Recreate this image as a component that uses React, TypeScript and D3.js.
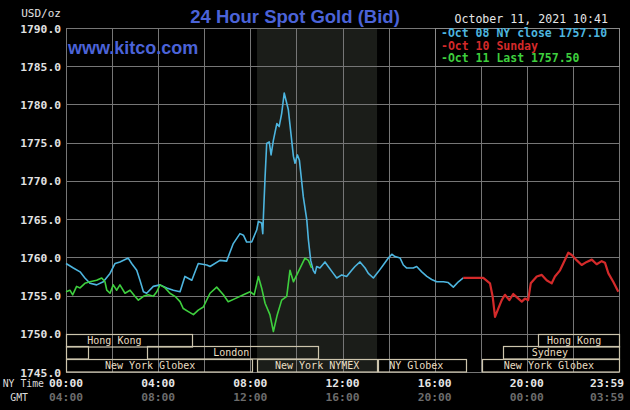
import React, { Component } from 'react';
import * as d3 from 'd3';

// [hour NY time, price]
const oct08Close: [number, number][] = [
  [0, 1759.2], [0.32, 1758.6], [0.61, 1758.1], [0.82, 1757.3], [1.04, 1756.6], [1.33, 1756.4],
  [1.62, 1756.8], [1.91, 1757.9], [2.13, 1759.2], [2.34, 1759.4], [2.7, 1759.9], [2.85, 1759.2],
  [3.07, 1758.3], [3.21, 1757.0], [3.36, 1755.5], [3.5, 1755.3], [3.79, 1756.2], [4.08, 1756.4],
  [4.37, 1756.0], [4.66, 1755.7], [4.95, 1755.5], [5.16, 1757.5], [5.46, 1757.0], [5.74, 1759.2],
  [6.11, 1759.0], [6.25, 1758.8], [6.68, 1759.6], [6.97, 1759.5], [7.26, 1761.8], [7.55, 1763.1],
  [7.7, 1762.9], [7.84, 1762.0], [8.06, 1762.0], [8.28, 1763.6], [8.35, 1764.7], [8.49, 1764.5],
  [8.54, 1763.1], [8.57, 1765.5], [8.64, 1770.5], [8.71, 1774.9], [8.82, 1775.1], [8.9, 1773.4],
  [9.0, 1775.3], [9.15, 1777.5], [9.25, 1777.1], [9.36, 1778.8], [9.47, 1781.5], [9.65, 1779.3],
  [9.87, 1773.2], [9.94, 1772.3], [10.04, 1773.4], [10.13, 1772.7], [10.3, 1767.9], [10.45, 1764.9],
  [10.52, 1762.3], [10.62, 1759.6], [10.73, 1758.3], [10.81, 1757.9], [10.88, 1758.8], [11.02, 1758.6],
  [11.24, 1759.4], [11.38, 1758.8], [11.6, 1757.9], [11.75, 1757.3], [11.97, 1757.7], [12.18, 1757.5],
  [12.4, 1758.3], [12.54, 1758.8], [12.76, 1759.4], [12.98, 1758.6], [13.12, 1757.9], [13.34, 1757.3],
  [13.55, 1758.1], [13.77, 1759.0], [13.99, 1759.9], [14.14, 1760.4], [14.28, 1760.1], [14.5, 1759.9],
  [14.64, 1759.0], [14.79, 1758.6], [15.07, 1758.6], [15.22, 1758.8], [15.44, 1758.1], [15.66, 1757.5],
  [15.87, 1757.1], [16.09, 1756.8], [16.38, 1756.8], [16.59, 1756.7], [16.81, 1756.1], [17.03, 1756.8],
  [17.24, 1757.3]
];

const oct10Sunday: [number, number][] = [
  [17.24, 1757.3], [18.11, 1757.3], [18.4, 1756.6], [18.52, 1754.8], [18.62, 1752.2], [18.76, 1753.3],
  [18.91, 1754.4], [19.05, 1755.1], [19.24, 1754.4], [19.41, 1755.2], [19.56, 1754.8], [19.78, 1754.2],
  [19.92, 1754.6], [20.06, 1754.4], [20.17, 1756.6], [20.43, 1757.5], [20.65, 1757.7], [20.86, 1757.0],
  [21.08, 1756.6], [21.22, 1757.5], [21.44, 1758.3], [21.58, 1759.2], [21.8, 1760.6], [21.95, 1760.3],
  [22.17, 1759.6], [22.38, 1759.0], [22.6, 1759.4], [22.82, 1759.7], [23.03, 1759.1], [23.25, 1759.5],
  [23.39, 1759.3], [23.54, 1757.9], [23.75, 1756.8], [23.97, 1755.5]
];

const oct11Last: [number, number][] = [
  [0, 1755.5], [0.17, 1755.7], [0.29, 1755.1], [0.46, 1756.2], [0.61, 1756.0], [0.82, 1756.6],
  [1.04, 1756.8], [1.33, 1757.0], [1.55, 1757.3], [1.69, 1756.8], [1.77, 1755.7], [1.91, 1755.3],
  [2.05, 1756.4], [2.2, 1755.7], [2.34, 1756.4], [2.56, 1755.3], [2.78, 1755.7], [2.99, 1754.9],
  [3.14, 1754.4], [3.36, 1754.9], [3.57, 1755.1], [3.79, 1754.9], [3.94, 1755.5], [4.08, 1756.4],
  [4.3, 1756.0], [4.51, 1755.3], [4.73, 1754.9], [4.95, 1754.2], [5.09, 1753.3], [5.31, 1752.9],
  [5.53, 1752.5], [5.74, 1753.1], [5.96, 1753.5], [6.25, 1755.3], [6.54, 1756.1], [6.83, 1755.1],
  [7.04, 1754.2], [7.34, 1754.6], [7.7, 1755.1], [7.99, 1755.5], [8.17, 1755.1], [8.35, 1757.5],
  [8.49, 1756.0], [8.64, 1754.0], [8.85, 1752.5], [9.0, 1750.3], [9.17, 1752.5], [9.36, 1754.4],
  [9.58, 1754.9], [9.72, 1758.3], [9.87, 1756.8], [10.08, 1758.1], [10.37, 1759.9], [10.52, 1759.6],
  [10.66, 1758.6]
];

const priceTicks = [1745, 1750, 1755, 1760, 1765, 1770, 1775, 1780, 1785, 1790];
const labelHours = [0, 4, 8, 12, 16, 20, 24];
const nyTimeLabels = ['00:00', '04:00', '08:00', '12:00', '16:00', '20:00', '23:59'];
const gmtLabels = ['04:00', '08:00', '12:00', '16:00', '20:00', '00:00', '03:59'];
const nymexHours = [8.29, 13.5];

// [start, end, name, label hour]
const sessionRow1: [number, number, string, number][] = [
  [0, 5.47, 'Hong Kong', 2.1], [20.5, 24, 'Hong Kong', 22.05]
];
const sessionRow2: [number, number, string, number][] = [
  [0, 0.95, '', 0], [3.5, 10.94, 'London', 7.17], [18.97, 24, 'Sydney', 21.0]
];
const sessionRow3: [number, number, string, number][] = [
  [0, 8.07, 'New York Globex', 3.65], [8.29, 13.5, 'New York NYMEX', 10.9],
  [13.54, 17.36, 'NY Globex', 15.2], [18.05, 24, 'New York Globex', 20.96]
];

const legendNames = ['Oct 08 NY close 1757.10', 'Oct 10 Sunday', 'Oct 11 Last 1757.50'];
const legendColors = ['#4db5df', '#d42a2a', '#3ecf3e'];

const MONO = '"DejaVu Sans Mono", monospace';
const SANS = '"Liberation Sans", Arial, sans-serif';

class GoldChart extends Component {
  box: SVGSVGElement | null = null;

  componentDidMount() {
    this.draw();
  }

  draw() {
    let me = this;
    let width = 630;
    let height = 410;
    let svg = d3.select(me.box);
    svg.selectAll('*').remove();

    let x = d3.scaleLinear().domain([0, 24]).range([66, 619]);
    let y = d3.scaleLinear().domain([1745, 1790]).range([372, 28]);

    svg.append('rect').attr('width', width).attr('height', height).attr('fill', '#000');

    // NYMEX shaded hours
    svg.append('rect')
      .attr('x', x(nymexHours[0]))
      .attr('y', y(1790))
      .attr('width', x(nymexHours[1]) - x(nymexHours[0]))
      .attr('height', y(1745) - y(1790))
      .attr('fill', '#1b1d19');

    // grid
    let grid = svg.append('g').attr('stroke', '#767676').attr('stroke-width', 1);
    grid.selectAll('.v')
      .data(d3.range(0, 25, 2))
      .enter()
      .append('line')
      .attr('x1', d => Math.round(x(d)) + 0.5)
      .attr('x2', d => Math.round(x(d)) + 0.5)
      .attr('y1', y(1790))
      .attr('y2', y(1745));
    grid.selectAll('.h')
      .data(priceTicks)
      .enter()
      .append('line')
      .attr('x1', x(0))
      .attr('x2', x(24))
      .attr('y1', d => Math.round(y(d)) + 0.5)
      .attr('y2', d => Math.round(y(d)) + 0.5);

    // market session boxes
    let rowTop = [y(1750), y(1750) + 12.5, y(1750) + 25];
    [sessionRow1, sessionRow2, sessionRow3].forEach((row, i) => {
      let g = svg.append('g');
      g.selectAll('rect')
        .data(row)
        .enter()
        .append('rect')
        .attr('x', d => Math.round(x(d[0])) + 0.5)
        .attr('y', Math.round(rowTop[i]) + 0.5)
        .attr('width', d => Math.round(x(d[1]) - x(d[0])))
        .attr('height', 12.5)
        .attr('fill', 'none')
        .attr('stroke', '#cdc5ad')
        .attr('stroke-width', 1.2);
      g.selectAll('text')
        .data(row)
        .enter()
        .append('text')
        .text(d => d[2])
        .attr('x', d => x(d[3]))
        .attr('y', rowTop[i] + 10)
        .attr('text-anchor', 'middle')
        .attr('fill', '#eadfc2')
        .style('font-family', MONO)
        .style('font-size', '10px');
    });

    // price lines
    let line = d3.line<[number, number]>().x(d => x(d[0])).y(d => y(d[1]));
    [oct08Close, oct10Sunday, oct11Last].forEach((s, i) => {
      svg.append('path')
        .attr('d', line(s))
        .attr('fill', 'none')
        .attr('stroke', legendColors[i])
        .attr('stroke-width', i === 1 ? 2.2 : 1.6)
        .attr('stroke-linejoin', 'round');
    });

    // legend
    svg.append('rect')
      .attr('x', 435.5).attr('y', y(1790) + 0.5)
      .attr('width', x(24) - 435).attr('height', 38)
      .attr('fill', '#000')
      .attr('stroke', '#8a8a8a');
    legendNames.forEach((name, i) => {
      svg.append('text')
        .text('-' + name)
        .attr('x', 441)
        .attr('y', 37 + i * 12.6)
        .attr('fill', legendColors[i])
        .style('font-family', MONO)
        .style('font-weight', 'bold')
        .style('font-size', '11.5px');
    });

    // y axis labels
    svg.selectAll('.ylab')
      .data(priceTicks)
      .enter()
      .append('text')
      .text(d => d.toFixed(1))
      .attr('x', 61)
      .attr('y', d => y(d) + 4.5)
      .attr('text-anchor', 'end')
      .attr('fill', '#e2e2e2')
      .style('font-family', MONO)
      .style('font-weight', 'bold')
      .style('font-size', '11.3px');

    // x axis labels
    labelHours.forEach((h, i) => {
      let last = i === labelHours.length - 1;
      let px = last ? x(h) + 5 : x(h);
      let anchor = last ? 'end' : 'middle';
      svg.append('text')
        .text(nyTimeLabels[i])
        .attr('x', px).attr('y', 387)
        .attr('text-anchor', anchor)
        .attr('fill', '#e6e6e6')
        .style('font-family', MONO)
        .style('font-weight', 'bold')
        .style('font-size', '11.3px');
      svg.append('text')
        .text(gmtLabels[i])
        .attr('x', px).attr('y', 401)
        .attr('text-anchor', anchor)
        .attr('fill', '#6c6c6c')
        .style('font-family', MONO)
        .style('font-weight', 'bold')
        .style('font-size', '11.3px');
    });
    svg.append('text').text('NY Time')
      .attr('x', 44).attr('y', 387).attr('text-anchor', 'end')
      .attr('fill', '#dcdcdc').style('font-family', MONO).style('font-size', '9.8px');
    svg.append('text').text('GMT')
      .attr('x', 28).attr('y', 401).attr('text-anchor', 'end')
      .attr('fill', '#dcdcdc').style('font-family', MONO).style('font-size', '9.8px');

    // titles
    svg.append('text').text('USD/oz')
      .attr('x', 61).attr('y', 17).attr('text-anchor', 'end')
      .attr('fill', '#e2e2e2').style('font-family', MONO).style('font-size', '11px');
    svg.append('text').text('24 Hour Spot Gold (Bid)')
      .attr('x', 295).attr('y', 23).attr('text-anchor', 'middle')
      .attr('fill', '#4b63d8').style('font-family', SANS)
      .style('font-weight', 'bold').style('font-size', '18.5px');
    svg.append('text').text('www.kitco.com')
      .attr('x', 68).attr('y', 54)
      .attr('fill', '#4b63d8').style('font-family', SANS)
      .style('font-weight', 'bold').style('font-size', '18px');
    svg.append('text').text('October 11, 2021 10:41')
      .attr('x', 608).attr('y', 23).attr('text-anchor', 'end')
      .attr('fill', '#e6e6e6').style('font-family', MONO).style('font-size', '11.6px');
  }

  render() {
    return (
      <svg
        ref={el => { this.box = el; }}
        width={630}
        height={410}
        style={{ position: 'absolute', left: 0, top: 0, display: 'block' }}
      />
    );
  }
}

export default function App() {
  return <GoldChart />;
}
